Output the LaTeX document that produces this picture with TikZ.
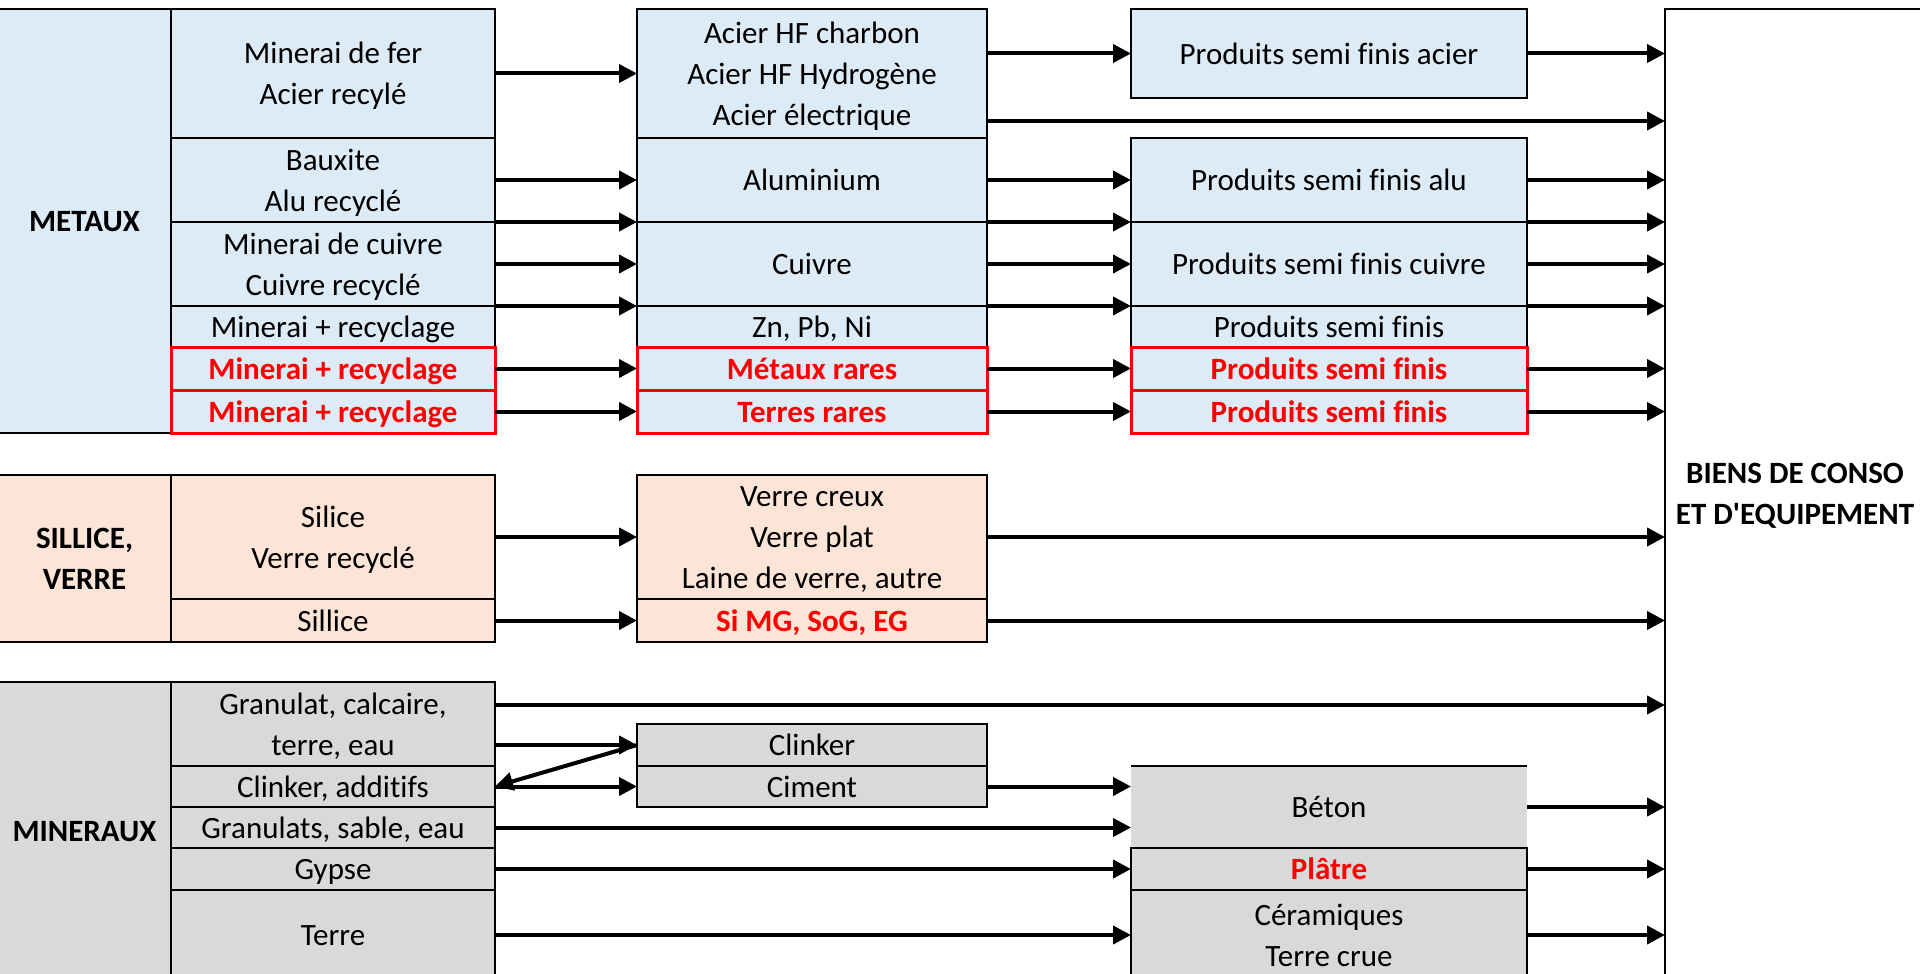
\documentclass[tikz,border=0pt]{standalone}
\usepackage{fontspec}
\setmainfont{Carlito}[Ligatures=CommonOff]
\usetikzlibrary{arrows.meta}

\definecolor{metal}{RGB}{221,235,247}
\definecolor{verre}{RGB}{252,228,214}
\definecolor{mineral}{RGB}{217,217,217}
\definecolor{rouge}{RGB}{255,0,0}

\tikzset{
  wh/.style 2 args={minimum width=#1pt, minimum height=#2pt},
  cell/.style={draw, line width=2pt, inner sep=0pt, outer sep=0pt, anchor=north west,
    align=center, font=\fontsize{31}{41}\selectfont, text height=30pt, text depth=9pt},
  two/.style={text height=71pt},
  three/.style={text height=112pt},
  group/.style={cell, font=\fontsize{31}{41}\selectfont\bfseries},
  redtext/.style={text=rouge, font=\fontsize{31}{41}\selectfont\bfseries},
  redcell/.style={cell, redtext, draw=rouge, line width=3pt},
  flow/.style={line width=4pt, -{Triangle[length=18pt,width=18pt]}},
}

\begin{document}
\begin{tikzpicture}[x=1pt,y=-1pt]
  \useasboundingbox (0,0) rectangle (1920,974);

  % metaux
  \node[group, fill=metal, wh={173}{424}] (metaux) at (-2,9) {METAUX};
  \node[cell, two, fill=metal, wh={324}{129}] (fer) at (171,9) {Minerai de fer\\Acier recylé};
  \node[cell, two, fill=metal, wh={324}{84}] (bauxite) at (171,138) {Bauxite\\Alu recyclé};
  \node[cell, two, fill=metal, wh={324}{84}] (mincuivre) at (171,222) {Minerai de cuivre\\Cuivre recyclé};
  \node[cell, fill=metal, wh={324}{41}] (minautre) at (171,306) {Minerai + recyclage};
  \node[redcell, fill=metal, wh={324}{43}] (minrare) at (171,347) {Minerai + recyclage};
  \node[redcell, fill=metal, wh={324}{43}] (minterre) at (171,390) {Minerai + recyclage};

  \node[cell, three, fill=metal, wh={350}{129}] (acier) at (637,9) {Acier HF charbon\\Acier HF Hydrogène\\Acier électrique};
  \node[cell, fill=metal, wh={350}{84}] (alu) at (637,138) {Aluminium};
  \node[cell, fill=metal, wh={350}{84}] (cuivre) at (637,222) {Cuivre};
  \node[cell, fill=metal, wh={350}{41}] (znpbni) at (637,306) {Zn, Pb, Ni};
  \node[redcell, fill=metal, wh={350}{43}] (rares) at (637,347) {Métaux rares};
  \node[redcell, fill=metal, wh={350}{43}] (terres) at (637,390) {Terres rares};

  \node[cell, fill=metal, wh={396}{89}] (psacier) at (1131,9) {Produits semi finis acier};
  \node[cell, fill=metal, wh={396}{84}] (psalu) at (1131,138) {Produits semi finis alu};
  \node[cell, fill=metal, wh={396}{84}] (pscuivre) at (1131,222) {Produits semi finis cuivre};
  \node[cell, fill=metal, wh={396}{41}] (psautre) at (1131,306) {Produits semi finis};
  \node[redcell, fill=metal, wh={396}{43}] (psrare) at (1131,347) {Produits semi finis};
  \node[redcell, fill=metal, wh={396}{43}] (psterre) at (1131,390) {Produits semi finis};

  % sillice, verre
  \node[group, two, fill=verre, wh={173}{167}] (sillice) at (-2,475) {SILLICE,\\VERRE};
  \node[cell, two, fill=verre, wh={324}{124}] (silice) at (171,475) {Silice\\Verre recyclé};
  \node[cell, fill=verre, wh={324}{43}] (sable) at (171,599) {Sillice};
  \node[cell, three, fill=verre, wh={350}{124}] (verre) at (637,475) {Verre creux\\Verre plat\\Laine de verre, autre};
  \node[cell, redtext, fill=verre, wh={350}{43}] (simg) at (637,599) {Si MG, SoG, EG};

  % mineraux
  \node[group, fill=mineral, wh={173}{298}] (mineraux) at (-2,682) {MINERAUX};
  \node[cell, two, fill=mineral, wh={324}{84}] (granulat) at (171,682) {Granulat, calcaire,\\terre, eau};
  \node[cell, fill=mineral, wh={324}{41}] (clinkadd) at (171,766) {Clinker, additifs};
  \node[cell, fill=mineral, wh={324}{41}] (granulats) at (171,807) {Granulats, sable, eau};
  \node[cell, fill=mineral, wh={324}{42}] (gypse) at (171,848) {Gypse};
  \node[cell, fill=mineral, wh={324}{90}] (terre) at (171,890) {Terre};

  \node[cell, fill=mineral, wh={350}{42}] (clinker) at (637,724) {Clinker};
  \node[cell, fill=mineral, wh={350}{41}] (ciment) at (637,766) {Ciment};

  \node[cell, draw=none, fill=mineral, wh={396}{82}] (beton) at (1131,766) {Béton};
  \draw[line width=2pt] (beton.north west) -- (beton.north east);
  \node[cell, redtext, fill=mineral, wh={396}{42}] (platre) at (1131,848) {Plâtre};
  \node[cell, two, fill=mineral, wh={396}{90}] (ceram) at (1131,890) {Céramiques\\Terre crue};

  \node[group, two, wh={260}{968}] (biens) at (1665,9) {BIENS DE CONSO\\ET D\textquotesingle EQUIPEMENT};

  % flux metaux
  \draw[flow] (fer) -- (acier);
  \draw[flow] (bauxite) -- (alu);
  \draw[flow] (bauxite.south east) -- (alu.south west);
  \draw[flow] (mincuivre) -- (cuivre);
  \draw[flow] (mincuivre.south east) -- (cuivre.south west);
  \draw[flow] (minrare) -- (rares);
  \draw[flow] (minterre) -- (terres);

  \draw[flow] (acier.east |- psacier) -- (psacier);
  \draw[flow] (acier.east |- 0,121) -- (biens.west |- 0,121);
  \draw[flow] (alu) -- (psalu);
  \draw[flow] (alu.south east) -- (psalu.south west);
  \draw[flow] (cuivre) -- (pscuivre);
  \draw[flow] (cuivre.south east) -- (pscuivre.south west);
  \draw[flow] (rares) -- (psrare);
  \draw[flow] (terres) -- (psterre);

  \draw[flow] (psacier) -- (psacier -| biens.west);
  \draw[flow] (psalu) -- (psalu -| biens.west);
  \draw[flow] (psalu.south east) -- (psalu.south east -| biens.west);
  \draw[flow] (pscuivre) -- (pscuivre -| biens.west);
  \draw[flow] (pscuivre.south east) -- (pscuivre.south east -| biens.west);
  \draw[flow] (psrare) -- (psrare -| biens.west);
  \draw[flow] (psterre) -- (psterre -| biens.west);

  % flux verre
  \draw[flow] (silice) -- (verre);
  \draw[flow] (sable) -- (simg);
  \draw[flow] (verre) -- (verre -| biens.west);
  \draw[flow] (simg) -- (simg -| biens.west);

  % flux mineraux
  \draw[flow] (granulat.east |- 0,705) -- (biens.west |- 0,705);
  \draw[flow] (granulat.east |- clinker) -- (clinker);
  \draw[flow] (clinker.west) -- (clinkadd.east);
  \draw[flow] (clinkadd) -- (ciment);
  \draw[flow] (ciment) -- (ciment -| beton.west);
  \draw[flow] (granulats) -- (granulats -| beton.west);
  \draw[flow] (gypse) -- (platre);
  \draw[flow] (terre) -- (ceram);
  \draw[flow] (beton) -- (beton -| biens.west);
  \draw[flow] (platre) -- (platre -| biens.west);
  \draw[flow] (ceram) -- (ceram -| biens.west);
\end{tikzpicture}
\end{document}
